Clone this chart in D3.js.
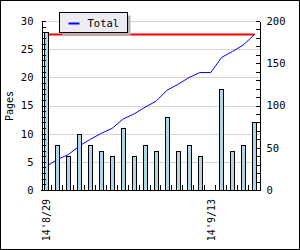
<!DOCTYPE html>
<html>
<head>
<meta charset="utf-8">
<script src="https://cdn.jsdelivr.net/npm/d3@7/dist/d3.min.js"></script>
<style>
  body { margin: 0; background: #fff; }
  svg text { font-family: "DejaVu Sans Mono", monospace; font-size: 10px; fill: #000; }
</style>
</head>
<body>
<div id="chart"></div>
<script>
// pages read per day
const days = ["2014-08-29","2014-08-30","2014-08-31","2014-09-01","2014-09-02","2014-09-03","2014-09-04",
  "2014-09-05","2014-09-06","2014-09-07","2014-09-08","2014-09-09","2014-09-10","2014-09-11",
  "2014-09-12","2014-09-13","2014-09-14","2014-09-15","2014-09-16","2014-09-17"];
const pages = [28, 8, 6, 10, 8, 7, 6, 11, 6, 8, 7, 13, 7, 8, 6, 0, 18, 7, 8, 12];
const dateLabels = { "2014-08-29": "14'8/29", "2014-09-13": "14'9/13" };
const bookPages = 184;  // red line
const leftTicks = d3.range(0, 31, 1);
const rightTicks = d3.range(0, 201, 10);

// running total
let sum = 0;
const totals = pages.map(p => (sum += p));

const width = 300, height = 250;
const svg = d3.select("#chart").append("svg")
  .attr("width", width)
  .attr("height", height);

svg.append("rect")
  .attr("x", 0.5).attr("y", 0.5)
  .attr("width", width - 1).attr("height", height - 1)
  .attr("fill", "#fff").attr("stroke", "#000");

const x = d3.scaleBand().domain(days).range([41, 260]);
const yL = d3.scaleLinear().domain([0, 30]).range([190, 21]);
const yR = d3.scaleLinear().domain([0, 200]).range([190, 21]);
const bw = x.bandwidth();

// grid on the left major ticks
svg.append("g").selectAll("line")
  .data(leftTicks.filter(d => d % 5 === 0 && d > 0))
  .enter().append("line")
  .attr("x1", 41).attr("x2", 260)
  .attr("y1", d => Math.round(yL(d)) + 0.5)
  .attr("y2", d => Math.round(yL(d)) + 0.5)
  .attr("stroke", "#d4d4d4");

// total pages of the book
svg.append("line")
  .attr("x1", x(days[0]) + bw / 2)
  .attr("x2", x(days[days.length - 1]) + bw / 2)
  .attr("y1", yR(bookPages)).attr("y2", yR(bookPages))
  .attr("stroke", "#ff0000").attr("stroke-width", 2);

// cumulative line
const line = d3.line()
  .x((d, i) => x(days[i]) + bw / 2)
  .y(d => yR(d));
svg.append("path")
  .datum(totals)
  .attr("d", line)
  .attr("fill", "none")
  .attr("stroke", "#0000ff")
  .attr("stroke-width", 1);

// bars
const barW = bw * 0.4;
svg.append("g").selectAll("rect")
  .data(pages)
  .enter().append("rect")
  .attr("x", (d, i) => Math.round(x(days[i]) + bw / 2 - barW / 2) + 0.5)
  .attr("y", d => Math.round(yL(d)) + 0.5)
  .attr("width", Math.round(barW))
  .attr("height", d => Math.round(yL(0)) - Math.round(yL(d)))
  .attr("fill", d => d > 0 ? "#add8e6" : "none")
  .attr("stroke", d => d > 0 ? "#000" : "none")
  .attr("stroke-width", 1);

// axes
const leftAxis = d3.axisLeft(yL)
  .tickValues(leftTicks)
  .tickSizeInner(-4).tickSizeOuter(0).tickPadding(8)
  .tickFormat(d => d % 5 === 0 ? d : "");
svg.append("g")
  .attr("transform", "translate(41.5,0)")
  .call(leftAxis)
  .call(g => g.selectAll("text").style("font-size", "10.5px"));

const rightAxis = d3.axisRight(yR)
  .tickValues(rightTicks)
  .tickSizeInner(-4).tickSizeOuter(0).tickPadding(7)
  .tickFormat(d => d % 50 === 0 ? d : "");
svg.append("g")
  .attr("transform", "translate(259.5,0)")
  .call(rightAxis)
  .call(g => g.selectAll("text").style("font-size", "10.5px"));

svg.selectAll(".tick line, .domain").attr("shape-rendering", "crispEdges");

// bottom axis: ticks between days
svg.append("line")
  .attr("x1", 41).attr("x2", 260)
  .attr("y1", 190.5).attr("y2", 190.5)
  .attr("stroke", "#000");
svg.append("g").selectAll("line")
  .data(days.slice(1))
  .enter().append("line")
  .attr("x1", d => Math.round(x(d)) - 0.5)
  .attr("x2", d => Math.round(x(d)) - 0.5)
  .attr("y1", 190).attr("y2", 185)
  .attr("stroke", "#000");

svg.append("g").selectAll("text")
  .data(days.filter(d => dateLabels[d]))
  .enter().append("text")
  .attr("transform", d => `translate(${x(d) + bw / 2 + 4},199) rotate(-90)`)
  .attr("text-anchor", "end")
  .text(d => dateLabels[d]);

// y title
svg.append("text")
  .attr("transform", "translate(13,106) rotate(-90)")
  .attr("text-anchor", "middle")
  .text("Pages");

// legend
const lg = svg.append("g").attr("transform", "translate(59.5,12.5)");
lg.append("rect")
  .attr("x", 3).attr("y", 3).attr("width", 68).attr("height", 20)
  .attr("fill", "#b4b4b4");
lg.append("rect")
  .attr("width", 68).attr("height", 20)
  .attr("fill", "#ececf2").attr("stroke", "#000");
lg.append("line")
  .attr("x1", 9).attr("x2", 20).attr("y1", 11).attr("y2", 11)
  .attr("stroke", "#0000ff").attr("stroke-width", 2);
lg.append("text")
  .attr("x", 28).attr("y", 14.5)
  .style("font-size", "10.5px")
  .text("Total");
</script>
</body>
</html>
